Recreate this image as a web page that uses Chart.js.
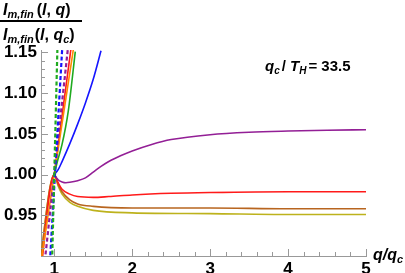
<!DOCTYPE html>
<html>
<head>
<meta charset="utf-8">
<script src="https://cdn.jsdelivr.net/npm/chart.js@4"></script>
<style>
  html, body { margin: 0; padding: 0; background: #fff; }
</style>
</head>
<body>
<canvas id="chart" width="405" height="273"></canvas>
<script>
// curves: q/q_c on x, ratio on y
const purpleQ = [1, 1.05, 1.1, 1.15, 1.2, 1.3, 1.4, 1.5, 1.6, 1.7, 1.85, 2, 2.25, 2.5, 3, 3.5, 4, 4.5, 5];
const purpleI = [1.0, 0.9935, 0.991, 0.990, 0.9905, 0.9925, 0.996, 1.003, 1.010, 1.016, 1.023, 1.029, 1.037, 1.043, 1.049, 1.052, 1.0535, 1.0545, 1.055];

const redQ = [0.8, 1, 1.05, 1.1, 1.2, 1.3, 1.5, 1.7, 2, 2.5, 3, 4, 5];
const redI = [0.856, 1.0, 0.99, 0.982, 0.976, 0.973, 0.972, 0.973, 0.975, 0.977, 0.978, 0.979, 0.979];

const brownQ = [0.8, 1, 1.05, 1.1, 1.2, 1.3, 1.5, 2, 3, 4, 5];
const brownI = [0.878, 1.0, 0.988, 0.979, 0.969, 0.964, 0.961, 0.959, 0.959, 0.958, 0.958];

const oliveQ = [0.8, 1, 1.05, 1.1, 1.2, 1.3, 1.5, 2, 3, 4, 5];
const oliveI = [0.88, 1.0, 0.986, 0.976, 0.966, 0.961, 0.956, 0.953, 0.952, 0.951, 0.951];

const blueQ = [1, 1.05, 1.1, 1.2, 1.3, 1.4, 1.5, 1.6];
const blueI = [1.0, 1.006, 1.016, 1.038, 1.062, 1.088, 1.117, 1.152];

const greenQ = [1, 1.04, 1.1, 1.18, 1.27];
const greenI = [1.0, 1.016, 1.037, 1.078, 1.151];

const orangeQ = [0.8, 1.26];
const orangeI = [0.8745, 1.163];

const redSteepQ = [1, 1.24];
const redSteepI = [1.0, 1.173];

const greenDashQ = [0.96, 1.045];
const greenDashI = [0.846, 1.172];
const blueDashQ = [0.94, 1.11];
const blueDashI = [0.885, 1.168];
const purpleDashQ = [0.87, 1.18];
const purpleDashI = [0.886, 1.159];

const xTicks = [1, 2, 3, 4, 5];
const yTicks = [0.95, 1.0, 1.05, 1.1, 1.15];

const pts = (qs, vs) => qs.map((q, i) => ({ x: q, y: vs[i] }));

function line(qs, vs, color, opts) {
  return Object.assign({
    data: pts(qs, vs),
    borderColor: color,
    borderWidth: 1.6,
    pointRadius: 0,
    fill: false,
    cubicInterpolationMode: 'monotone'
  }, opts || {});
}
const dashed = { borderDash: [4, 2.5], borderWidth: 2.2, cubicInterpolationMode: 'default', tension: 0 };

const FONT = '"Liberation Sans", Arial, sans-serif';

// draws mixed-style text runs left to right
function runs(ctx, x, y, parts) {
  parts.forEach(p => {
    ctx.font = p.f;
    ctx.fillText(p.t, x, y + (p.dy || 0));
    x += ctx.measureText(p.t).width + (p.gap || 0);
  });
  return x;
}

const decor = {
  id: 'decor',
  afterDraw(chart) {
    const ctx = chart.ctx;
    const xs = chart.scales.x, ys = chart.scales.y;
    const left = chart.chartArea.left, bottom = chart.chartArea.bottom;
    ctx.save();
    ctx.strokeStyle = '#999';
    ctx.lineWidth = 1;
    // tick marks, major and minor
    for (let v = 1; v <= 5.001; v += 0.2) {
      const px = Math.round(xs.getPixelForValue(v)) + 0.5;
      const major = Math.abs(v - Math.round(v)) < 0.01;
      ctx.beginPath(); ctx.moveTo(px, bottom); ctx.lineTo(px, bottom - (major ? 7 : 4)); ctx.stroke();
    }
    for (let k = 91; k <= 115; k++) {
      const v = k / 100;
      const py = Math.round(ys.getPixelForValue(v)) + 0.5;
      const major = k % 5 === 0;
      ctx.beginPath(); ctx.moveTo(left, py); ctx.lineTo(left + (major ? 7 : 4), py); ctx.stroke();
    }
    ctx.restore();

    ctx.save();
    ctx.fillStyle = '#000';
    ctx.textBaseline = 'alphabetic';
    const B = s => 'bold ' + s + 'px ' + FONT;
    const BI = s => 'italic bold ' + s + 'px ' + FONT;
    // fraction label of the y axis
    runs(ctx, 3, 15, [
      { t: 'I', f: BI(16) }, { t: 'm,fin', f: BI(11), dy: 3, gap: 3 },
      { t: '(', f: B(16) }, { t: 'l', f: BI(16) }, { t: ', ', f: B(16) },
      { t: 'q', f: BI(16) }, { t: ')', f: B(16) }
    ]);
    ctx.fillRect(0, 20, 82, 2);
    runs(ctx, 3, 40, [
      { t: 'I', f: BI(16) }, { t: 'm,fin', f: BI(11), dy: 3, gap: 1 },
      { t: '(', f: B(16) }, { t: 'l', f: BI(16) }, { t: ', ', f: B(16) },
      { t: 'q', f: BI(16) }, { t: 'c', f: BI(11), dy: 3 }, { t: ')', f: B(16) }
    ]);
    // parameter note
    runs(ctx, 265, 71, [
      { t: 'q', f: BI(15) }, { t: 'c', f: BI(10), dy: 3, gap: 2 },
      { t: '/ ', f: B(15) }, { t: 'T', f: BI(15) }, { t: 'H', f: BI(10), dy: 3, gap: 2 },
      { t: '= 33.5', f: B(15) }
    ]);
    // x axis label
    runs(ctx, 373, 260, [
      { t: 'q', f: BI(16) }, { t: '/', f: BI(16) }, { t: 'q', f: BI(16) },
      { t: 'c', f: BI(11), dy: 3 }
    ]);
    ctx.restore();
  }
};

new Chart(document.getElementById('chart'), {
  type: 'line',
  data: {
    datasets: [
      line(greenDashQ, greenDashI, '#1faa1f', dashed),
      line(blueDashQ, blueDashI, '#1515ff', dashed),
      line(purpleDashQ, purpleDashI, '#931f96', dashed),
      line(greenQ, greenI, '#1faa1f'),
      line(orangeQ, orangeI, '#ff8a00', { tension: 0, cubicInterpolationMode: 'default' }),
      line(redSteepQ, redSteepI, '#ff1a1a', { tension: 0, cubicInterpolationMode: 'default' }),
      line(blueQ, blueI, '#1515ff'),
      line(purpleQ, purpleI, '#931f96'),
      line(redQ, redI, '#ff1a1a'),
      line(brownQ, brownI, '#b8651f'),
      line(oliveQ, oliveI, '#bdb21c')
    ]
  },
  options: {
    responsive: false,
    animation: false,
    events: [],
    layout: { padding: { top: 50, right: 39, left: 0, bottom: 0 } },
    plugins: { legend: { display: false }, tooltip: { enabled: false } },
    scales: {
      x: {
        type: 'linear',
        min: 0.83,
        max: 5,
        grid: { display: false, drawTicks: false },
        border: { display: true, color: '#999', width: 1 },
        afterBuildTicks: s => { s.ticks = xTicks.map(v => ({ value: v })); },
        afterFit: s => { s.height = 17; },
        ticks: { color: '#000', padding: 3, maxRotation: 0, font: { family: FONT, size: 17, weight: 'bold' }, callback: v => String(v) }
      },
      y: {
        type: 'linear',
        min: 0.9,
        max: 1.153,
        grid: { display: false, drawTicks: false },
        border: { display: true, color: '#999', width: 1 },
        afterBuildTicks: s => { s.ticks = yTicks.map(v => ({ value: v })); },
        afterFit: s => { s.width = 41; },
        ticks: { color: '#000', padding: 4, font: { family: FONT, size: 17, weight: 'bold' }, callback: v => v.toFixed(2) }
      }
    }
  },
  plugins: [decor]
});
</script>
</body>
</html>
